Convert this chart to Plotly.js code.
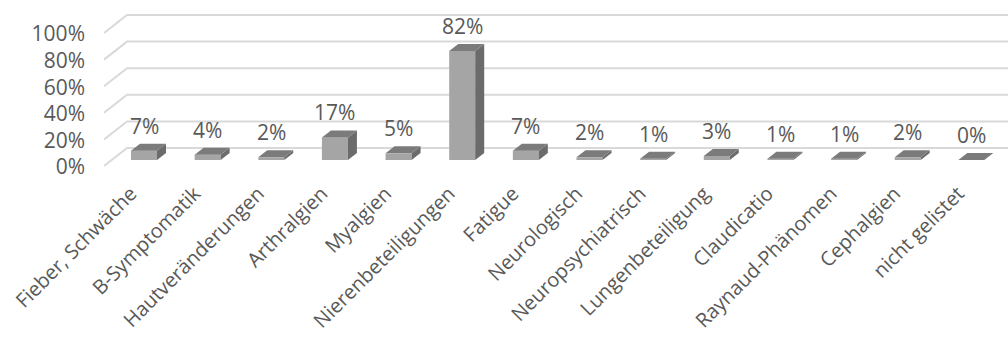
<!DOCTYPE html>
<html>
<head>
<meta charset="utf-8">
<script src="https://cdn.plot.ly/plotly-3.0.1.min.js"></script>
<style>html,body{margin:0;padding:0;background:#fff;}#chart{width:1008px;height:338px;}</style>
</head>
<body>
<div id="chart"></div>
<script>
const categories = ["Fieber, Schwäche", "B-Symptomatik", "Hautveränderungen", "Arthralgien", "Myalgien",
  "Nierenbeteiligungen", "Fatigue", "Neurologisch", "Neuropsychiatrisch", "Lungenbeteiligung",
  "Claudicatio", "Raynaud-Phänomen", "Cephalgien", "nicht gelistet"];
const values = [0.07, 0.04, 0.02, 0.17, 0.05, 0.82, 0.07, 0.02, 0.01, 0.03, 0.01, 0.01, 0.02, 0.00];
const tickValues = [0, 0.2, 0.4, 0.6, 0.8, 1.0];

// geometry (pixels)
const W = 1008, H = 338;
const margin = {l: 104, r: 0, t: 12, b: 168};
const plotW = W - margin.l - margin.r;
const catStep = 63.64, firstCat = 144;      // px position of first category
const yPx = 133, yZero = 160;               // px per unit, px of value 0
const xRange = [(margin.l - firstCat) / catStep, (W - margin.r - firstCat) / catStep];
const yRange = [-(H - margin.b - yZero) / yPx, (yZero - margin.t) / yPx];
const barPx = 26, depthX = 9, depthY = 7;
const wallX = 23, frontDrop = 6, backRise = 12;

const xIdx = categories.map((c, i) => i);
const txtColor = '#595959';
const font = {family: 'Open Sans, sans-serif', size: 21, color: txtColor};
const xFont = {family: 'Open Sans, sans-serif', size: 20, color: txtColor};

const shapes = [];
tickValues.forEach(v => {
  shapes.push({
    type: 'path', layer: 'below', xref: 'x', yref: 'y',
    xsizemode: 'pixel', ysizemode: 'pixel', xanchor: xRange[0], yanchor: v,
    path: `M0,${-frontDrop} L${wallX},${backRise} L${plotW},${backRise}`,
    line: {color: '#d9d9d9', width: 2}
  });
});
const hw = barPx / 2, dY = depthY / yPx;
values.forEach((v, i) => {
  shapes.push({
    type: 'path', layer: 'above', xref: 'x', yref: 'y',
    xsizemode: 'pixel', xanchor: i,
    path: `M${hw},0 L${hw},${v} L${hw + depthX},${v + dY} L${hw + depthX},${dY} Z`,
    fillcolor: '#6b6b6b', line: {width: 0}
  });
  shapes.push({
    type: 'path', layer: 'above', xref: 'x', yref: 'y',
    xsizemode: 'pixel', ysizemode: 'pixel', xanchor: i, yanchor: v,
    path: `M${-hw},0 L${hw},0 L${hw + depthX},${depthY} L${-hw + depthX},${depthY} Z`,
    fillcolor: '#7b7b7b', line: {width: 0}
  });
});

const annotations = values.map((v, i) => ({
  x: i, y: v, xref: 'x', yref: 'y', text: Math.round(v * 100) + '%',
  showarrow: false, yanchor: 'middle', xanchor: 'center', yshift: 25, font: font
}));

const data = [{
  type: 'bar', x: xIdx, y: values, width: barPx / catStep,
  marker: {color: '#a5a5a5', line: {width: 0}}, hoverinfo: 'skip'
}];

const layout = {
  width: W, height: H, margin: margin,
  paper_bgcolor: '#fff', plot_bgcolor: 'rgba(0,0,0,0)',
  showlegend: false, font: font,
  xaxis: {range: xRange, tickvals: xIdx, ticktext: categories, tickangle: -45,
    showgrid: false, zeroline: false, showline: false, ticks: '', ticklabelstandoff: 7,
    ticklabelshift: -13, tickfont: xFont, fixedrange: true},
  yaxis: {range: yRange, tickvals: tickValues, tickformat: '.0%', showgrid: false,
    zeroline: false, showline: false, ticks: '', ticklabelstandoff: 18, ticklabelshift: 7,
    tickfont: font, fixedrange: true},
  shapes: shapes, annotations: annotations
};
Plotly.newPlot('chart', data, layout, {displayModeBar: false, staticPlot: true});
</script>
</body>
</html>
